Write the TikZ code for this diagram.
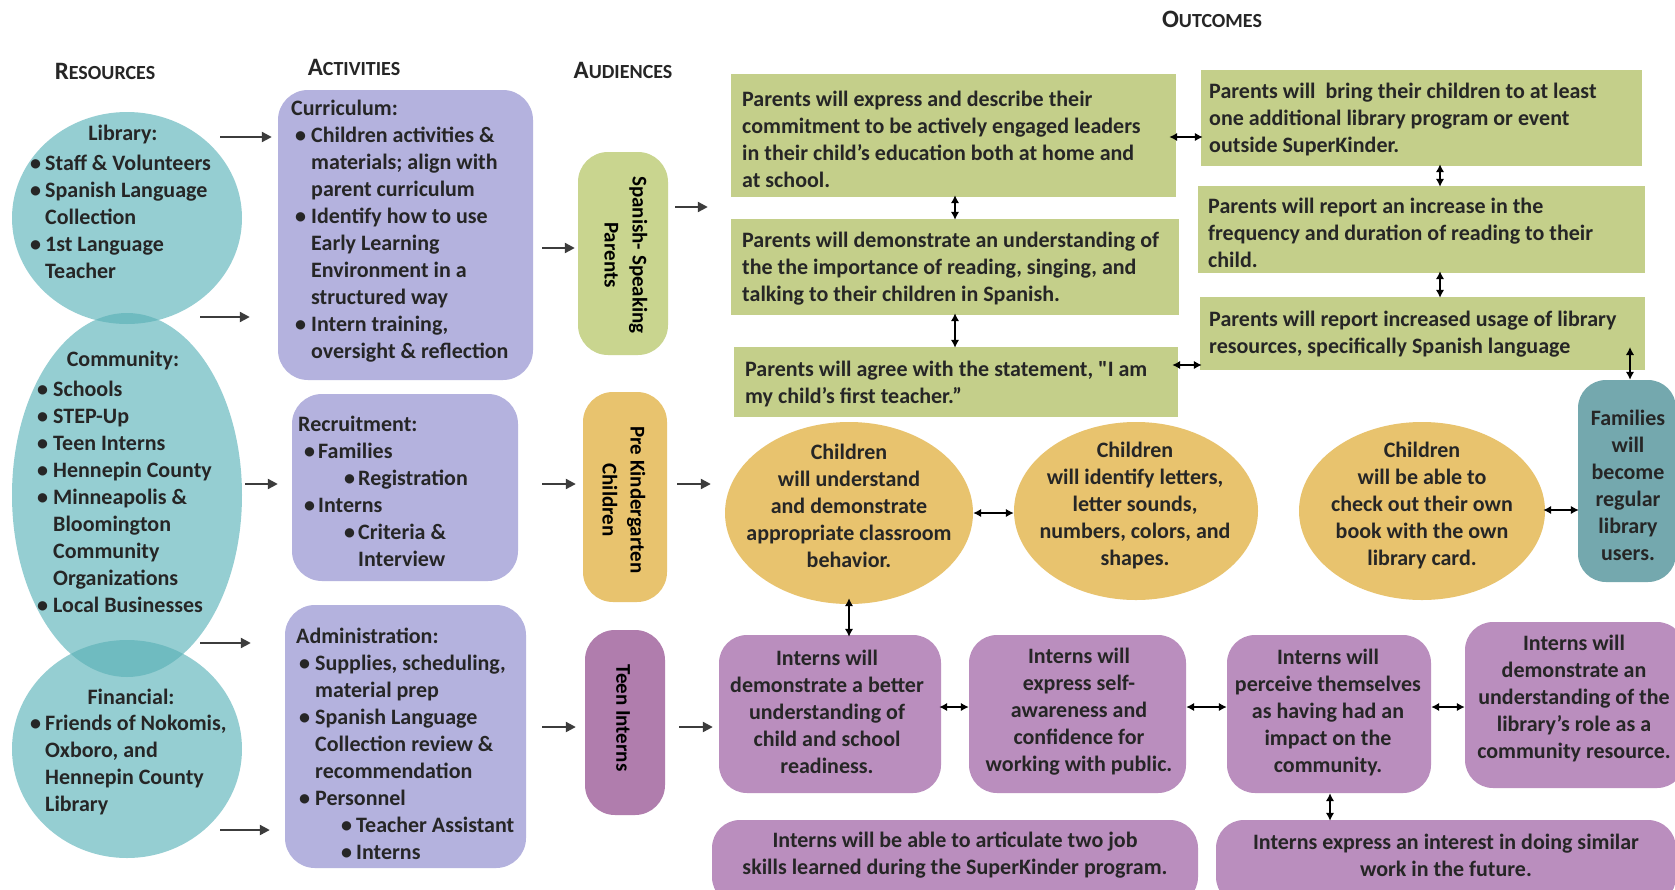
\documentclass[tikz,border=0pt]{standalone}
\usepackage{fontspec}
\setmainfont{Carlito}
\newfontfamily\plainq{Carlito}
\usetikzlibrary{arrows.meta,shapes.geometric}

\definecolor{tealA}{HTML}{95CED2}
\definecolor{tealB}{HTML}{6FBBC0}
\definecolor{lav}{HTML}{B4B2DE}
\definecolor{audgreen}{HTML}{C9D58F}
\definecolor{outgreen}{HTML}{C4CF8A}
\definecolor{gold}{HTML}{E8C36E}
\definecolor{plum}{HTML}{B07DAD}
\definecolor{mauve}{HTML}{BA8EBE}
\definecolor{slate}{HTML}{74A8AE}
\definecolor{ink}{HTML}{262626}
\definecolor{arrgray}{HTML}{3C3C3C}

% bullet: indent #1, then bullet in a box of width #2
\newcommand\ib[2]{\hspace*{#1}\makebox[#2][l]{\textbullet}}
% fake small caps for the column headings
\newcommand\tsc[2]{{\fontsize{25}{25}\selectfont #1}{\fontsize{20}{20}\selectfont #2}}

\begin{document}
\begin{tikzpicture}[x=1pt,y=-1pt,
  txt/.style={font=\fontsize{22}{27}\selectfont\bfseries, text=ink, inner sep=0pt},
  head/.style={font=\bfseries, text=ink, inner sep=0pt},
  ell/.style={ellipse, inner sep=0pt, draw=none},
  rbox/.style={rectangle, rounded corners=#1, inner sep=0pt, draw=none},
  rbox/.default=28pt,
  sbox/.style={rectangle, inner sep=0pt, draw=none, fill=outgreen},
  arr/.style={draw=arrgray, line width=2.2pt, -{Triangle[length=10pt,width=10pt]}},
  dbl/.style={draw=black, line width=1.8pt, {Latex[length=8pt,width=8.5pt]}-{Latex[length=8pt,width=8.5pt]}}
]
\useasboundingbox (0,0) rectangle (1675,889);
\fill[white] (0,0) rectangle (1675,889);

% ---------- headings ----------
\node[head] (hres) at (105,71) {\tsc{R}{ESOURCES}};
\node[head] (hact) at (354,67) {\tsc{A}{CTIVITIES}};
\node[head] (haud) at (623,70) {\tsc{A}{UDIENCES}};
\node[head] (hout) at (1212,19) {\tsc{O}{UTCOMES}};

% ---------- resources ----------
\node[ell, fill=tealA, minimum width=230pt, minimum height=212pt] (lib) at (127,218) {};
\node[ell, fill=tealA, minimum width=230pt, minimum height=364pt] (comm) at (127,495) {};
\node[ell, fill=tealA, minimum width=230pt, minimum height=218pt] (fin) at (127,749) {};
\begin{scope}
  \clip (127,218) ellipse [x radius=115pt, y radius=106pt];
  \fill[tealB] (127,495) ellipse [x radius=115pt, y radius=182pt];
\end{scope}
\begin{scope}
  \clip (127,749) ellipse [x radius=115pt, y radius=109pt];
  \fill[tealB] (127,495) ellipse [x radius=115pt, y radius=182pt];
\end{scope}

\node[txt] (libh) at (123,135) {Library:};
\node[txt, align=left, anchor=west] (libl) at (30,217) {%
\ib{0pt}{15pt}Staff \& Volunteers\\%
\ib{0pt}{15pt}Spanish Language\\%
\hspace*{15pt}Collection\\%
\ib{0pt}{15pt}1st Language\\%
\hspace*{15pt}Teacher};

\node[txt] (commh) at (123,361) {Community:};
\node[txt, align=left, anchor=west] (comml) at (37,497) {%
\ib{0pt}{16pt}Schools\\%
\ib{0pt}{16pt}STEP-Up\\%
\ib{0pt}{16pt}Teen Interns\\%
\ib{0pt}{16pt}Hennepin County\\%
\ib{0pt}{16pt}Minneapolis \&\\%
\hspace*{16pt}Bloomington\\%
\hspace*{16pt}Community\\%
\hspace*{16pt}Organizations\\%
\ib{0pt}{16pt}Local Businesses};

\node[txt] (finh) at (131,697) {Financial:};
\node[txt, align=left, anchor=west] (finl) at (30,765) {%
\ib{0pt}{15pt}Friends of Nokomis,\\%
\hspace*{15pt}Oxboro, and\\%
\hspace*{15pt}Hennepin County\\%
\hspace*{15pt}Library};

% ---------- activities ----------
\node[rbox=30pt, fill=lav, minimum width=255pt, minimum height=290pt] (curr) at (405.5,235) {};
\node[rbox=30pt, fill=lav, minimum width=226pt, minimum height=187pt] (recr) at (405,487.5) {};
\node[rbox=30pt, fill=lav, minimum width=241pt, minimum height=263pt] (admin) at (405.5,736.5) {};

\node[txt, align=left, anchor=west] (currt) at (291,231) {%
Curriculum:\\%
\ib{4pt}{16pt}Children activities \&\\%
\hspace*{20pt}materials; align with\\%
\hspace*{20pt}parent curriculum\\%
\ib{4pt}{16pt}Identify how to use\\%
\hspace*{20pt}Early Learning\\%
\hspace*{20pt}Environment in a\\%
\hspace*{20pt}structured way\\%
\ib{4pt}{16pt}Intern training,\\%
\hspace*{20pt}oversight \& reflection};

\node[txt, align=left, anchor=west] (recrt) at (298,491) {%
Recruitment:\\%
\ib{6pt}{14pt}Families\\%
\ib{46pt}{14pt}Registration\\%
\ib{6pt}{14pt}Interns\\%
\ib{46pt}{14pt}Criteria \&\\%
\hspace*{60pt}Interview};

\node[txt, align=left, anchor=west] (admint) at (296,744) {%
Administration:\\%
\ib{3pt}{16pt}Supplies, scheduling,\\%
\hspace*{19pt}material prep\\%
\ib{3pt}{16pt}Spanish Language\\%
\hspace*{19pt}Collection review \&\\%
\hspace*{19pt}recommendation\\%
\ib{3pt}{16pt}Personnel\\%
\ib{45pt}{15pt}Teacher Assistant\\%
\ib{45pt}{15pt}Interns};

% ---------- audiences ----------
\node[rbox=30pt, fill=audgreen, minimum width=90pt, minimum height=203pt] (sp) at (623,253.5) {};
\node[rbox=30pt, fill=gold, minimum width=84pt, minimum height=210pt] (pk) at (625,497) {};
\node[rbox=30pt, fill=plum, minimum width=80pt, minimum height=185pt] (ti) at (625,722.5) {};

\node[txt, font=\fontsize{21}{28}\selectfont\bfseries, text=black, rotate=-90, align=center] (spt) at (626,255) {Spanish- Speaking\\Parents};
\node[txt, font=\fontsize{21}{28}\selectfont\bfseries, text=black, rotate=-90, align=center] (pkt) at (624,500) {Pre Kindergarten\\Children};
\node[txt, font=\fontsize{21}{28}\selectfont\bfseries, text=black, rotate=-90] (tit) at (623,718) {Teen Interns};

% ---------- parent outcomes ----------
\node[sbox, minimum width=445pt, minimum height=123pt] (P1) at (953.5,135.5) {};
\node[sbox, minimum width=448pt, minimum height=96pt] (P2) at (955,267) {};
\node[sbox, minimum width=444pt, minimum height=70pt] (P3) at (956,382) {};
\node[sbox, minimum width=441pt, minimum height=96pt] (P4) at (1421.5,118) {};
\node[sbox, minimum width=447pt, minimum height=87pt] (P5) at (1421.5,229.5) {};
\node[sbox, minimum width=445pt, minimum height=73pt] (P6) at (1422.5,333.5) {};

\node[txt, align=left, anchor=west] (P1t) at (742,139) {%
Parents will express and describe their\\%
commitment to be actively engaged leaders\\%
in their child’s education both at home and\\%
at school.};
\node[txt, align=left, anchor=west] (P2t) at (742,269) {%
Parents will demonstrate an understanding of\\%
the the importance of reading, singing, and\\%
talking to their children in Spanish.};
\node[txt, align=left, anchor=west] (P3t) at (745,384) {%
Parents will agree with the statement, {\plainq"}I am\\%
my child’s first teacher.”};
\node[txt, align=left, anchor=west] (P4t) at (1209,120) {%
Parents will\hspace{5pt} bring their children to at least\\%
one additional library program or event\\%
outside SuperKinder.};
\node[txt, align=left, anchor=west] (P5t) at (1208,233) {%
Parents will report an increase in the\\%
frequency and duration of reading to their\\%
child.};
\node[txt, align=left, anchor=west] (P6t) at (1209,334) {%
Parents will report increased usage of library\\%
resources, specifically Spanish language};

\node[rbox=28pt, fill=slate, minimum width=98pt, minimum height=202pt] (fam) at (1627,481) {};
\node[txt, align=center] (famt) at (1628,485) {Families\\will\\become\\regular\\library\\users.};

% ---------- children outcomes ----------
\node[ell, fill=gold, minimum width=248pt, minimum height=182pt] (C1) at (849,513) {};
\node[ell, fill=gold, minimum width=244pt, minimum height=178pt] (C2) at (1136,511) {};
\node[ell, fill=gold, minimum width=246pt, minimum height=178pt] (C3) at (1422,511) {};
\node[txt, align=center] (C1t) at (849,506) {Children\\will understand\\and demonstrate\\appropriate classroom\\behavior.};
\node[txt, align=center] (C2t) at (1135,506) {Children\\will identify letters,\\letter sounds,\\numbers, colors, and\\shapes.};
\node[txt, align=center] (C3t) at (1422,506) {Children\\will be able to\\check out their own\\book with the own\\library card.};

% ---------- intern outcomes ----------
\node[rbox=28pt, fill=mauve, minimum width=222pt, minimum height=158pt] (I1) at (830,714) {};
\node[rbox=28pt, fill=mauve, minimum width=217pt, minimum height=158pt] (I2) at (1077.5,714) {};
\node[rbox=28pt, fill=mauve, minimum width=204pt, minimum height=158pt] (I3) at (1329,714) {};
\node[rbox=28pt, fill=mauve, minimum width=220pt, minimum height=166pt] (I4) at (1575,705) {};
\node[rbox=28pt, fill=mauve, minimum width=486pt, minimum height=85pt] (I5) at (955,862.5) {};
\node[rbox=28pt, fill=mauve, minimum width=460pt, minimum height=85pt] (I6) at (1446,862.5) {};

\node[txt, align=center] (I1t) at (827,712) {Interns will\\demonstrate a better\\understanding of\\child and school\\readiness.};
\node[txt, align=center] (I2t) at (1079,712) {Interns will\\express self-\\awareness and\\confidence for\\working with public.};
\node[txt, align=center] (I3t) at (1328,712) {Interns will\\perceive themselves\\as having had an\\impact on the\\community.};
\node[txt, align=center] (I4t) at (1574,698) {Interns will\\demonstrate an\\understanding of the\\library’s role as a\\community resource.};
\node[txt, align=center] (I5t) at (955,855) {Interns will be able to articulate two job\\skills learned during the SuperKinder program.};
\node[txt, align=center] (I6t) at (1446,855) {Interns express an interest in doing similar\\work in the future.};

% ---------- flow arrows ----------
\coordinate (r1) at (220,137);
\coordinate (r2) at (200,317);
\coordinate (r3) at (245,484);
\coordinate (r4) at (200,643);
\coordinate (r5) at (220,830);
\draw[arr, shorten >=6pt] (r1) -- (r1 -| curr.west);
\draw[arr, shorten >=28pt] (r2) -- (r2 -| curr.west);
\draw[arr, shorten >=14pt] (r3) -- (r3 -| recr.west);
\draw[arr, shorten >=34pt] (r4) -- (r4 -| admin.west);
\draw[arr, shorten >=15pt] (r5) -- (r5 -| admin.west);

\coordinate (q1) at (542,248);
\coordinate (q2) at (542,484);
\coordinate (q3) at (542,727);
\draw[arr, shorten >=3pt] (q1) -- (q1 -| sp.west);
\draw[arr, shorten >=7pt] (q2) -- (q2 -| pk.west);
\draw[arr, shorten >=9pt] (q3) -- (q3 -| ti.west);

\coordinate (o1) at (675,207);
\coordinate (o2) at (677,484);
\coordinate (o3) at (679,727);
\draw[arr, shorten >=23pt] (o1) -- (o1 -| P1.west);
\draw[arr, shorten >=14pt] (o2) -- (o2 -| C1.west);
\draw[arr, shorten >=6pt] (o3) -- (o3 -| I1.west);

% ---------- links between outcomes ----------
\coordinate (yA) at (0,137);
\coordinate (yB) at (0,365);
\coordinate (xA) at (955,0);
\coordinate (xB) at (1440,0);
\coordinate (xC) at (1630,0);
\coordinate (xD) at (849,0);
\coordinate (xE) at (1330,0);
\coordinate (yC) at (0,513);
\coordinate (yD) at (0,510);
\coordinate (yE) at (0,707);
\coordinate (f1) at (1630,347);

\draw[dbl, shorten <=-7pt, shorten >=-2pt] (P1.east |- yA) -- (P4.west |- yA);
\draw[dbl, shorten <=-2pt, shorten >=-1pt] (P1.south -| xA) -- (P2.north -| xA);
\draw[dbl, shorten <=-2pt, shorten >=-1pt] (P2.south -| xA) -- (P3.north -| xA);
\draw[dbl, shorten <=-6pt, shorten >=-2pt] (P3.east |- yB) -- (P6.west |- yB);
\draw[dbl, shorten <=-2pt, shorten >=-1pt] (P4.south -| xB) -- (P5.north -| xB);
\draw[dbl, shorten <=-2pt, shorten >=-1pt] (P5.south -| xB) -- (P6.north -| xB);
\draw[dbl] (f1) -- (fam.north -| xC);
\draw[dbl] (C1.east |- yC) -- (C2.west |- yC);
\draw[dbl, shorten <=-2pt, shorten >=-1pt] (C3.east |- yD) -- (fam.west |- yD);
\draw[dbl, shorten <=-6pt, shorten >=-2pt] (C1.south -| xD) -- (I1.north -| xD);
\draw[dbl, shorten <=-2pt] (I1.east |- yE) -- (I2.west |- yE);
\draw[dbl] (I2.east |- yE) -- (I3.west |- yE);
\draw[dbl] (I3.east |- yE) -- (I4.west |- yE);
\draw[dbl, shorten >=-1pt] (I3.south -| xE) -- (I6.north -| xE);
\end{tikzpicture}
\end{document}
